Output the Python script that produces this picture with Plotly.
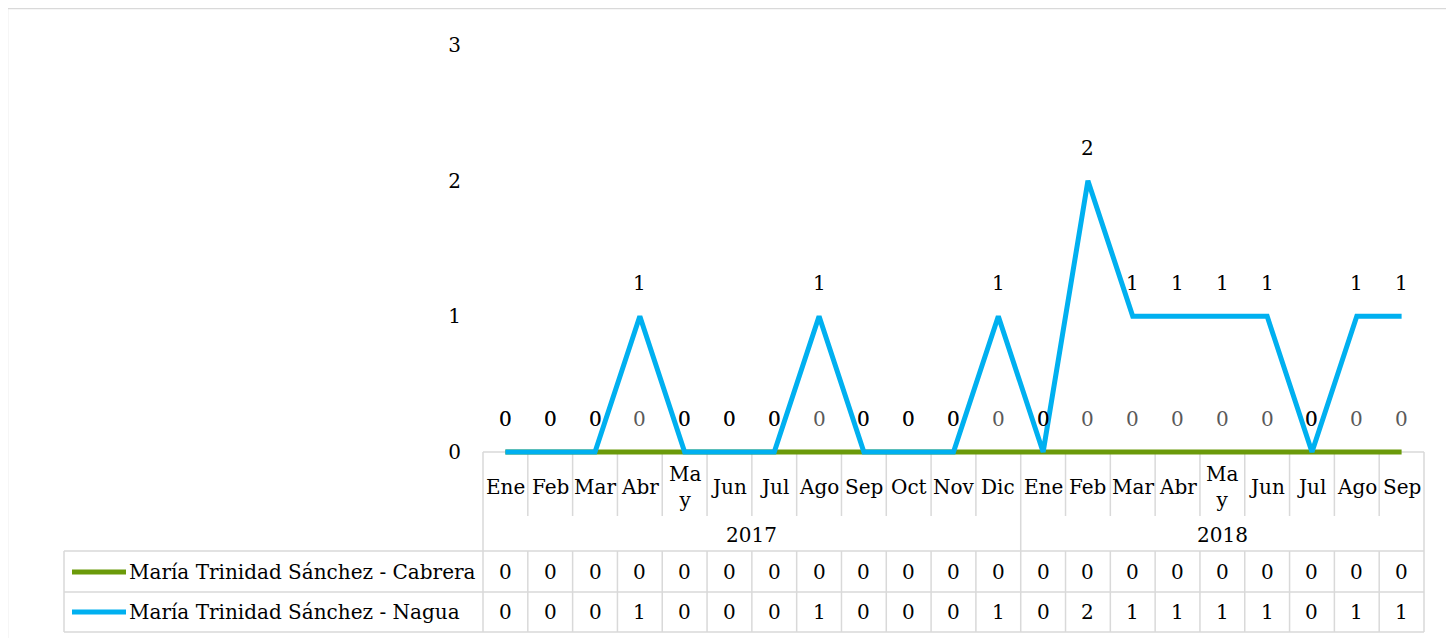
import plotly.graph_objects as go

months = ["Ene", "Feb", "Mar", "Abr", "May", "Jun", "Jul", "Ago", "Sep", "Oct", "Nov", "Dic",
          "Ene", "Feb", "Mar", "Abr", "May", "Jun", "Jul", "Ago", "Sep"]
years = ["2017", "2018"]
year_counts = [12, 9]
cabrera = [0, 0, 0, 0, 0, 0, 0, 0, 0, 0, 0, 0, 0, 0, 0, 0, 0, 0, 0, 0, 0]
nagua = [0, 0, 0, 1, 0, 0, 0, 1, 0, 0, 0, 1, 0, 2, 1, 1, 1, 1, 0, 1, 1]
series_names = ["María Trinidad Sánchez - Cabrera", "María Trinidad Sánchez - Nagua"]
y_ticks = [0, 1, 2, 3]

GREEN = "#6B9A0A"
BLUE = "#00B0F0"
GRID = "#D9D9D9"
FONT = "DejaVu Serif"
FS = 20

W, H = 1454, 638
OFF = 8                     # page body margin of the html
PL, PR = 483, 1424          # plot area left/right in px (page)
PT, PB = 45, 456            # plot area top/bottom in px (page)
n = len(months)
unit = (452 - PT) / 3.0
ymin = -(PB - 452) / unit


def px2p(px):
    return (px - PL) / (PR - PL)


def py2p(py):
    return (PB - py) / (PB - PT)


def bx(k):
    return PL + k * (PR - PL) / n


x = list(range(n))
fig = go.Figure()
fig.add_trace(go.Scatter(x=x, y=cabrera, mode="lines", name=series_names[0],
                         line=dict(color=GREEN, width=5), showlegend=False))
fig.add_trace(go.Scatter(x=x, y=nagua, mode="lines", name=series_names[1],
                         line=dict(color=BLUE, width=5), showlegend=False))

ann = []
shapes = []
for i, v in enumerate(cabrera):
    ann.append(dict(x=i, y=v, xref="x", yref="y", text=str(v), showarrow=False, yshift=33,
                    font=dict(family=FONT, size=FS, color="#595959")))
for i, v in enumerate(nagua):
    ann.append(dict(x=i, y=v, xref="x", yref="y", text=str(v), showarrow=False, yshift=33,
                    font=dict(family=FONT, size=FS, color="#000000")))

for i, m in enumerate(months):
    t = "Ma<br>y" if m == "May" else m
    ann.append(dict(x=i, y=py2p(487), xref="x", yref="paper", text=t, showarrow=False,
                    font=dict(family=FONT, size=FS, color="#000"), yanchor="middle"))
start = 0
for yr, c in zip(years, year_counts):
    ann.append(dict(x=(2 * start + c - 1) / 2, y=py2p(535), xref="x", yref="paper", text=yr,
                    showarrow=False, font=dict(family=FONT, size=FS, color="#000"), yanchor="middle"))
    start += c

for vals, rc in [(cabrera, 572), (nagua, 612)]:
    for i, v in enumerate(vals):
        ann.append(dict(x=i, y=py2p(rc), xref="x", yref="paper", text=str(v), showarrow=False,
                        font=dict(family=FONT, size=FS, color="#000"), yanchor="middle"))
for name, col, rc in [(series_names[0], GREEN, 572), (series_names[1], BLUE, 612)]:
    shapes.append(dict(type="line", xref="paper", yref="paper", x0=px2p(72), x1=px2p(126),
                       y0=py2p(rc), y1=py2p(rc), line=dict(color=col, width=5)))
    ann.append(dict(x=px2p(127), y=py2p(rc), xref="paper", yref="paper", text=name, showarrow=False,
                    xanchor="left", yanchor="middle", font=dict(family=FONT, size=FS, color="#000")))


def line(x0, y0, x1, y1, col=GRID, w=1.5):
    shapes.append(dict(type="line", xref="paper", yref="paper", x0=px2p(x0), x1=px2p(x1),
                       y0=py2p(y0), y1=py2p(y1), line=dict(color=col, width=w), layer="below"))


line(PL, 452, PR, 452)
for k in range(n + 1):
    line(bx(k), 452, bx(k), 516)
ends = [0]
for c in year_counts:
    ends.append(ends[-1] + c)
for k in ends:
    line(bx(k), 516, bx(k), 551)
for yy in (551, 592, 632):
    line(64, yy, PR, yy)
for k in range(n + 1):
    line(bx(k), 551, bx(k), 632)
line(64, 551, 64, 632)
line(7.5, 8.5, W + 5, 8.5)
line(7.5, 8.5, 7.5, H + 5)

fig.update_layout(
    width=W, height=H, autosize=False,
    margin=dict(l=PL - OFF, r=W - PR + OFF, t=PT - OFF, b=H - PB + OFF, pad=0),
    paper_bgcolor="white", plot_bgcolor="white",
    showlegend=False,
    annotations=ann, shapes=shapes,
    xaxis=dict(range=[-0.5, n - 0.5], showticklabels=False, showgrid=False, zeroline=False,
               showline=False, ticks=""),
    yaxis=dict(range=[ymin, 3], tickvals=y_ticks, showgrid=False, zeroline=False, showline=False,
               ticks="", ticklabelstandoff=21,
               tickfont=dict(family=FONT, size=FS, color="#000")),
)

fig.write_html("out.html")
